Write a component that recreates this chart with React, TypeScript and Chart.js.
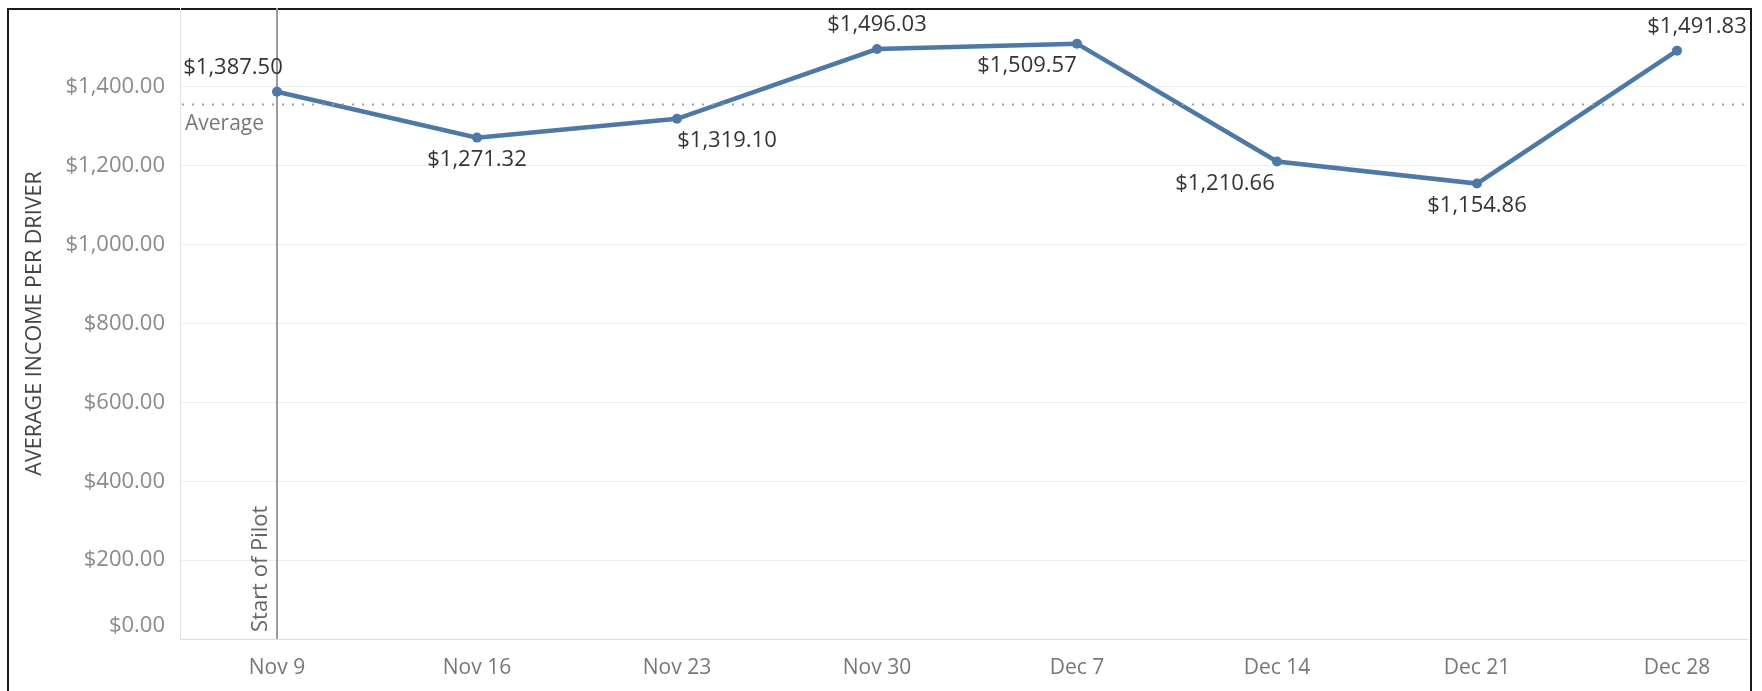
import React, { useEffect, useRef } from 'react';
import { Chart, registerables } from 'chart.js';

Chart.register(...registerables);

// ---- data ----
const weekLabels = ['Nov 9', 'Nov 16', 'Nov 23', 'Nov 30', 'Dec 7', 'Dec 14', 'Dec 21', 'Dec 28'];
const avgIncome = [1387.5, 1271.32, 1319.1, 1496.03, 1509.57, 1210.66, 1154.86, 1491.83];
const averageValue = 1355.11;
const pilotStartIndex = 0;
const yTickStep = 200;
const yMax = 1600;

// ---- label placement (style only) ----
const labelSide = ['above', 'below', 'below', 'above', 'below', 'below', 'below', 'above'];
const labelShift = [-44, 0, 50, 0, -50, -52, 0, 20];

const FONT = '"Open Sans", "Noto Sans", sans-serif';

const money = (v: number) =>
  '$' + v.toLocaleString('en-US', { minimumFractionDigits: 2, maximumFractionDigits: 2 });

const decorPlugin = {
  id: 'decor',
  beforeDraw(chart: any) {
    const { ctx, width, height } = chart;
    ctx.save();
    ctx.fillStyle = '#ffffff';
    ctx.fillRect(0, 0, width, height);
    ctx.strokeStyle = '#1a1a1a';
    ctx.lineWidth = 2;
    ctx.strokeRect(8, 9, 1743, 800);
    ctx.restore();
  },
  beforeDatasetsDraw(chart: any) {
    const { ctx, chartArea, scales } = chart;
    const x = scales.x.getPixelForValue(pilotStartIndex);
    ctx.save();
    ctx.strokeStyle = '#9a9a9a';
    ctx.lineWidth = 2;
    ctx.beginPath();
    ctx.moveTo(x, chartArea.top);
    ctx.lineTo(x, chartArea.bottom);
    ctx.stroke();

    ctx.translate(x - 16, chartArea.bottom - 7);
    ctx.rotate(-Math.PI / 2);
    ctx.fillStyle = '#666666';
    ctx.font = `22px ${FONT}`;
    ctx.textAlign = 'left';
    ctx.textBaseline = 'middle';
    ctx.fillText('Start of Pilot', 0, 0);
    ctx.restore();
  },
  afterDatasetsDraw(chart: any) {
    const { ctx, chartArea, scales } = chart;
    const y = scales.y.getPixelForValue(averageValue);
    ctx.save();
    ctx.strokeStyle = '#9e9e9e';
    ctx.lineWidth = 2;
    ctx.setLineDash([2, 8]);
    ctx.beginPath();
    ctx.moveTo(chartArea.left + 2, y);
    ctx.lineTo(chartArea.right + 4, y);
    ctx.stroke();
    ctx.setLineDash([]);

    ctx.fillStyle = '#777777';
    ctx.font = `21px ${FONT}`;
    ctx.textAlign = 'left';
    ctx.textBaseline = 'middle';
    ctx.fillText('Average', chartArea.left + 5, y + 19);

    const meta = chart.getDatasetMeta(0);
    ctx.fillStyle = '#333333';
    ctx.font = `22px ${FONT}`;
    ctx.textAlign = 'center';
    meta.data.forEach((pt: any, i: number) => {
      const dy = labelSide[i] === 'above' ? -24 : 22;
      ctx.fillText(money(avgIncome[i]), pt.x + labelShift[i], pt.y + dy);
    });
    ctx.restore();
  },
};

export default function App() {
  const ref = useRef<HTMLCanvasElement | null>(null);

  useEffect(() => {
    if (!ref.current) return;
    const chart = new Chart(ref.current, {
      type: 'line',
      data: {
        datasets: [
          {
            data: avgIncome.map((y, i) => ({ x: i, y })),
            borderColor: '#4e79a7',
            backgroundColor: '#4e79a7',
            borderWidth: 4.5,
            pointRadius: 5,
            pointBorderWidth: 0,
            pointBackgroundColor: '#4e79a7',
            tension: 0,
            clip: false as any,
          },
        ],
      },
      options: {
        animation: false,
        responsive: false,
        layout: { padding: { left: 0, right: 15, top: 8, bottom: 0 } },
        plugins: { legend: { display: false }, tooltip: { enabled: false } },
        scales: {
          x: {
            type: 'linear',
            min: -0.485,
            max: 7.35,
            grid: { display: false, drawTicks: false },
            border: { display: true, color: '#dedede', width: 1 },
            afterBuildTicks: (s: any) => {
              s.ticks = weekLabels.map((_, i) => ({ value: i }));
            },
            afterFit: (s: any) => {
              s.height = 52;
              s.paddingLeft = 0;
              s.paddingRight = 0;
            },
            ticks: {
              autoSkip: false,
              maxRotation: 0,
              padding: 16,
              color: '#777777',
              font: { family: FONT, size: 21 },
              callback: (v: any) => weekLabels[v] ?? '',
            },
          },
          y: {
            type: 'linear',
            min: 0,
            max: yMax,
            grid: { color: '#ececec', lineWidth: 1, drawTicks: false },
            border: { display: true, color: '#e4e4e4', width: 1 },
            afterBuildTicks: (s: any) => {
              s.ticks = s.ticks.filter((t: any) => t.value < yMax);
            },
            afterFit: (s: any) => {
              s.width = 180;
              s.paddingTop = 0;
              s.paddingBottom = 0;
            },
            ticks: {
              stepSize: yTickStep,
              padding: 15,
              color: '#8a8a8a',
              font: { family: FONT, size: 22 },
              // the bottom label sits slightly above its gridline, as in the original
              callback: (v: any) => (Number(v) === 0 ? [money(0), ''] : money(Number(v))),
            },
            title: {
              display: true,
              text: 'AVERAGE INCOME PER DRIVER',
              color: '#444444',
              font: { family: FONT, size: 21.5 },
              padding: { top: 22, bottom: 0 },
            },
          },
        },
      },
      plugins: [decorPlugin],
    });
    return () => chart.destroy();
  }, []);

  return (
    <div style={{ position: 'absolute', left: 0, top: 0, width: 1762, height: 691 }}>
      <canvas ref={ref} width={1762} height={691} style={{ display: 'block' }} />
    </div>
  );
}
